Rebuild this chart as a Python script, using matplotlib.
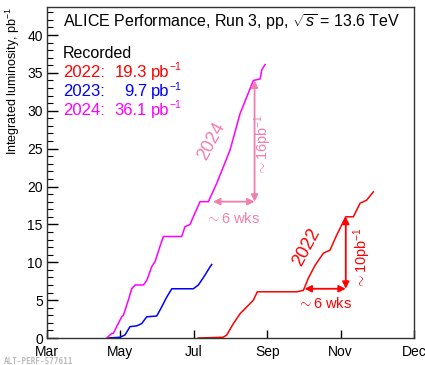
import matplotlib
matplotlib.use("Agg")
import matplotlib.pyplot as plt
from matplotlib.ticker import MultipleLocator

plt.rcParams['font.family'] = ['Liberation Sans', 'DejaVu Sans']
plt.rcParams['mathtext.fontset'] = 'custom'
plt.rcParams['mathtext.rm'] = 'Liberation Sans'
plt.rcParams['mathtext.it'] = 'Liberation Sans:italic'

# x: days since 1 March (axis labelled every 61 days)
month_labels = ["Mar", "May", "Jul", "Sep", "Nov", "Dec"]
month_pos = [0, 61, 122, 183, 244, 305]

days_2024 = [49.6, 53.8, 55.1, 57.9, 62.1, 63.5, 67.6, 70.4, 73.2, 80.1, 82.9, 87.0, 89.8,
             93.9, 96.7, 111.9, 114.7, 118.9, 121.6, 127.2, 134.1, 141.0, 152.1, 160.4,
             171.5, 177.1, 178.5, 181.2]
lumi_2024 = [0.0, 0.6, 0.6, 1.5, 2.8, 3.0, 5.0, 6.5, 7.0, 7.0, 7.6, 9.4, 10.1,
             12.1, 13.4, 13.4, 14.7, 15.0, 16.0, 18.0, 18.0, 20.4, 24.8, 29.6,
             34.0, 34.2, 35.4, 36.1]

days_2023 = [51.0, 60.7, 64.8, 69.0, 74.6, 78.7, 82.9, 91.2, 95.3, 99.5, 103.7, 121.6,
             125.8, 131.3, 135.5, 136.9]
lumi_2023 = [0.0, 0.1, 0.4, 1.5, 1.6, 1.9, 2.8, 2.9, 4.1, 5.4, 6.5, 6.5,
             7.0, 8.3, 9.4, 9.7]

days_2022 = [125.8, 146.5, 149.4, 154.9, 160.4, 166.0, 171.5, 174.8, 207.6, 213.1, 217.2,
             222.8, 229.7, 235.2, 240.8, 248.3, 254.6, 260.2, 265.7, 271.2]
lumi_2022 = [0.0, 0.1, 0.4, 1.9, 3.2, 4.1, 5.0, 6.1, 6.1, 6.3, 7.9,
             9.6, 11.2, 11.6, 13.6, 16.0, 16.0, 17.8, 18.2, 19.3]

years = ["2022", "2023", "2024"]
totals = ["19.3", "9.7", "36.1"]
colors = ["#ff0000", "#0000ff", "#ff00ff"]
pink = "#f07fb0"

W, H = 425, 365
fig = plt.figure(figsize=(W/100, H/100), dpi=100)
ax = fig.add_axes([47/W, 1-338/H, (414-47)/W, (338-7)/H])

ax.plot(days_2022, lumi_2022, color=colors[0], lw=1.1)
ax.plot(days_2023, lumi_2023, color=colors[1], lw=1.1)
ax.plot(days_2024, lumi_2024, color=colors[2], lw=1.1)

ax.set_xlim(0, 305)
ax.set_ylim(0, 43.7)
ax.set_xticks(month_pos)
ax.set_xticklabels(month_labels, fontsize=10)
ax.yaxis.set_major_locator(MultipleLocator(5))
ax.yaxis.set_minor_locator(MultipleLocator(1))
ax.tick_params(axis='y', which='major', direction='in', length=8, width=1, labelsize=10, right=False, pad=3)
ax.tick_params(axis='y', which='minor', direction='in', length=4, width=0.8, right=False)
ax.tick_params(axis='x', which='major', direction='in', length=6, width=1, pad=5, top=False)
for s in ax.spines.values():
    s.set_color('#333333')
    s.set_linewidth(1.0)
ax.set_ylabel("Integrated luminosity, pb$^{-1}$", fontsize=9, loc='top', labelpad=4)

def fx(px):
    return px / W

def fy(py):
    return 1 - py / H

# header text (baselines in pixels)
fig.text(fx(63), fy(27), r"ALICE Performance, Run 3, pp, $\sqrt{s}$ = 13.6 TeV",
         fontsize=11.5, va='baseline', ha='left')
fig.text(fx(63), fy(58), "Recorded", fontsize=11.5, va='baseline')
for i, (yr, tot, c) in enumerate(zip(years, totals, colors)):
    base = 77 + 19*i
    fig.text(fx(63), fy(base), yr + ":", fontsize=12, va='baseline', color=c)
    fig.text(fx(147), fy(base), tot, fontsize=12, va='baseline', ha='right', color=c)
    fig.text(fx(151), fy(base), "pb", fontsize=12, va='baseline', color=c)
    fig.text(fx(169.5), fy(base - 6.5), "\u22121", fontsize=7.5, va='baseline', color=c)

# 2024 annotations
arrow_kw = dict(arrowstyle='<|-|>', mutation_scale=10, lw=1.3, shrinkA=0, shrinkB=0)
ax.annotate("", xy=(138, 18.0), xytext=(172.5, 18.0), arrowprops=dict(color=pink, **arrow_kw))
ax.annotate("", xy=(172.5, 18.0), xytext=(172.5, 34.0), arrowprops=dict(color=pink, **arrow_kw))
ax.text(154, 15.8, r"$\sim$6 wks", color=pink, fontsize=10.5, ha='center', va='center')
ax.text(180, 25.5, r"$\sim$16pb$^{-1}$", color=pink, fontsize=10.5, rotation=90, ha='center', va='center')
ax.text(137, 26.0, "2024", color=pink, fontsize=13, rotation=62, ha='center', va='center')

# 2022 annotations
ax.annotate("", xy=(214, 6.5), xytext=(248.3, 6.5), arrowprops=dict(color='red', **arrow_kw))
ax.annotate("", xy=(248.3, 6.5), xytext=(248.3, 16.0), arrowprops=dict(color='red', **arrow_kw))
ax.text(231, 4.6, r"$\sim$6 wks", color='red', fontsize=10.5, ha='center', va='center')
ax.text(262, 10.6, r"$\sim$10pb$^{-1}$", color='red', fontsize=10.5, rotation=90, ha='center', va='center')
ax.text(216, 12.0, "2022", color='red', fontsize=13, rotation=62, ha='center', va='center')

fig.text(fx(4), fy(357.5), "ALT-PERF-577611", fontsize=5.5, color='#bbbbbb',
         family='DejaVu Sans Mono', va='top', weight='bold')

fig.savefig("out.png", dpi=100)
